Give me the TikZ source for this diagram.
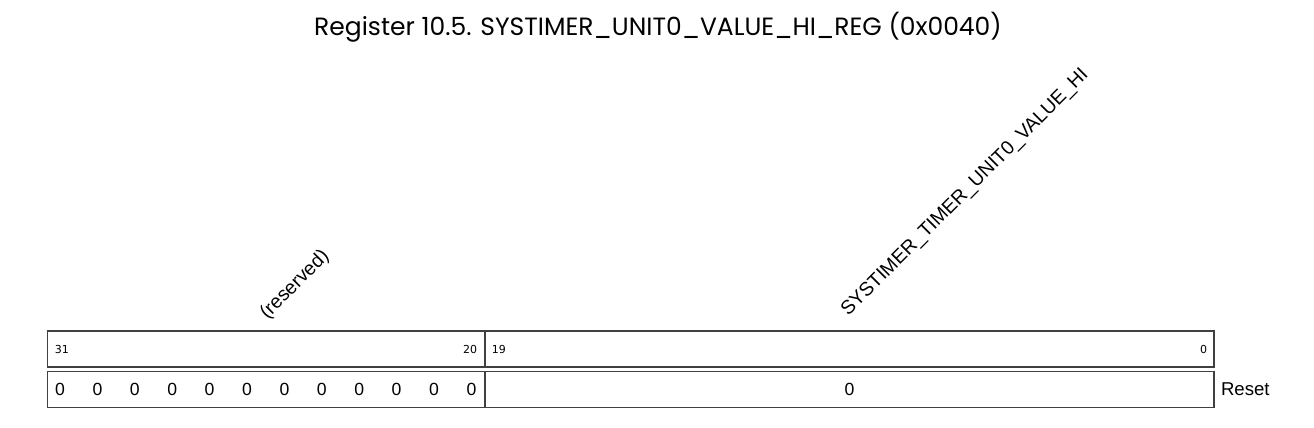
\documentclass[tikz,border=0pt]{standalone}
\usepackage{fontspec}
\setmainfont{Liberation Sans}
\newfontfamily\titlefont{Poppins}
\newfontfamily\bitfont{DejaVu Sans}
\usetikzlibrary{positioning}

\begin{document}
\begin{tikzpicture}[x=0.5pt, y=-0.5pt,
    field/.style={rectangle, draw=black!75, line width=0.6pt, minimum height=18pt, inner sep=0pt},
    bitnum/.style={font=\bitfont\fontsize{5.5}{6}\selectfont, inner sep=0pt},
    resetval/.style={font=\fontsize{8.8}{10}\selectfont, inner sep=0pt},
    fieldname/.style={font=\fontsize{9.7}{11}\selectfont, rotate=45, anchor=base west, inner sep=0pt}]

    \useasboundingbox (0,0) rectangle (1314,428);

    \node [font=\titlefont\fontsize{12.5}{14}\selectfont, anchor=base, inner sep=0pt] (title) at (658,35) {Register 10.5. SYSTIMER\_UNIT0\_VALUE\_HI\_REG (0x0040)};

    % field names
    \node [fieldname] (n_res) at (267,320) {(reserved)};
    \node [fieldname] (n_val) at (848,317) {SYSTIMER\_TIMER\_UNIT0\_VALUE\_HI};

    % bit ranges
    \node [field, minimum width=218.75pt] (hi_res) at (266.25,349) {};
    \node [field, minimum width=364.5pt] (hi_val) at (849.5,349) {};
    \node [bitnum, anchor=west] (b31) at ([xshift=3.75pt]hi_res.west) {31};
    \node [bitnum, anchor=east] (b20) at ([xshift=-4pt]hi_res.east) {20};
    \node [bitnum, anchor=west] (b19) at ([xshift=3.5pt]hi_val.west) {19};
    \node [bitnum, anchor=east] (b0) at ([xshift=-3.5pt]hi_val.east) {0};

    % reset values
    \node [field, minimum width=218.75pt] (rst_res) at (266.25,389.5) {};
    \node [field, minimum width=364.5pt] (rst_val) at (849.5,389.5) {};
    \foreach \i in {0,...,11}
        \node [resetval] (z\i) at (60+37.4*\i,389.6) {0};
    \node [resetval] (z_val) at (rst_val.center) {0};
    \node [font=\fontsize{9.3}{11}\selectfont, anchor=west, inner sep=0pt] (reset) at ([xshift=3pt]rst_val.east) {Reset};
\end{tikzpicture}
\end{document}
